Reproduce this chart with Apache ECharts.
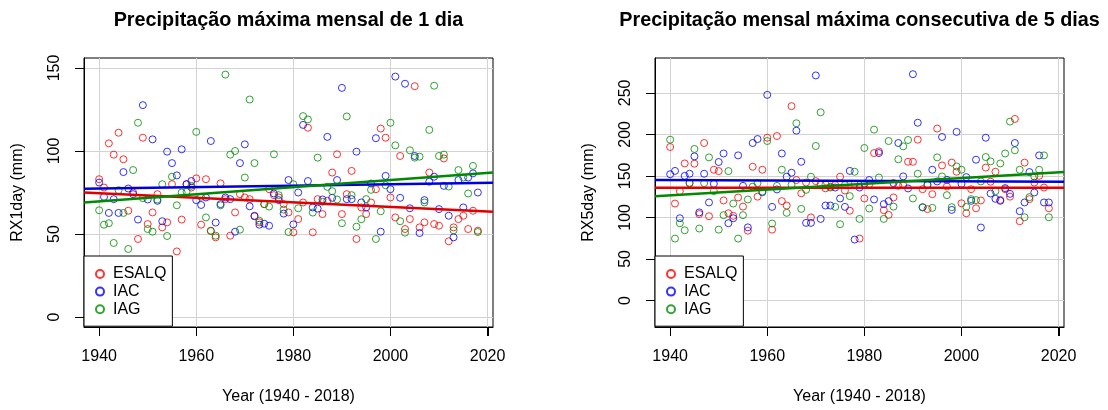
<!DOCTYPE html>
<html>
<head>
<meta charset="utf-8">
<title>RX1day / RX5day</title>
<script src="https://cdn.jsdelivr.net/npm/echarts@6/dist/echarts.min.js"></script>
<style>
  html, body { margin: 0; padding: 0; background: #ffffff; }
  #chart { width: 1108px; height: 410px; }
</style>
</head>
<body>
<div id="chart"></div>
<script>
// Years of record
const years = [
  1940, 1941, 1942, 1943, 1944, 1945, 1946, 1947, 1948, 1949,
  1950, 1951, 1952, 1953, 1954, 1955, 1956, 1957, 1958, 1959,
  1960, 1961, 1962, 1963, 1964, 1965, 1966, 1967, 1968, 1969,
  1970, 1971, 1972, 1973, 1974, 1975, 1976, 1977, 1978, 1979,
  1980, 1981, 1982, 1983, 1984, 1985, 1986, 1987, 1988, 1989,
  1990, 1991, 1992, 1993, 1994, 1995, 1996, 1997, 1998, 1999,
  2000, 2001, 2002, 2003, 2004, 2005, 2006, 2007, 2008, 2009,
  2010, 2011, 2012, 2013, 2014, 2015, 2016, 2017, 2018
];

const stations = ['ESALQ', 'IAC', 'IAG'];

// RX1day (mm): maximum 1-day precipitation per year
const rx1ESALQ = [
  83, 78, 104.6, 97.8, 111, 95, 64, 75, 47, 108,
  56, 63, 74, 54, 57, 80, 39.5, 58.7, 80, 78,
  83.5, 55.6, 83, 52, 48, 80.5, 71, 49, 63, 74,
  72, 71, 61, 57, 68, 77, 73.4, 72, 68, 63,
  51, 59, 69, 114, 51, 71, 62, 70, 87, 98,
  62, 74, 88, 47, 66, 62, 69, 77, 113.5, 108,
  72, 60, 97, 53, 59, 139, 54, 57, 87, 56,
  55, 95.5, 45.6, 54, 59, 61, 53, 64, 52
];
const rx1IAC = [
  81, 72.4, 62.7, 71, 62.7, 87.3, 77.4, 74, 58.7, 127.6,
  70.8, 107, 70, 57.7, 99.6, 92.7, 85.3, 101, 80, 81.9,
  70.4, 67.5, 72, 106, 56.9, 68, 72, 71, 51.4, 92.7,
  104, 66.7, 60.7, 55.6, 56.2, 55, 74.4, 70.4, 62.3, 82.5,
  55.8, 75, 115.7, 81.9, 66, 65.3, 70.8, 108.5, 71.8, 82.5,
  138, 71, 71, 99.6, 69, 66, 80.4, 107.7, 51.4, 85,
  77, 144.8, 71.8, 140.5, 65.5, 97, 50.6, 70.4, 81.5, 84.5,
  65, 79, 61, 48, 82.5, 66, 84, 86.5, 75
];
const rx1IAG = [
  64.3, 55.6, 56.5, 44.6, 76.4, 62.7, 41, 88.5, 117, 71.6,
  53, 51.4, 70.8, 80, 48.8, 84.5, 67.3, 75, 75.4, 79,
  111.5, 72.4, 60, 51.8, 49, 67.3, 146, 97.8, 100, 52.6,
  84, 131, 92.7, 58, 68, 66.5, 98, 73.4, 64.7, 51.2,
  80, 65.5, 121, 119, 62.9, 96, 69.4, 78.4, 75.8, 70.8,
  56.5, 120.8, 73.4, 54.4, 58.9, 71, 76.6, 47, 63.7, 79.4,
  117, 103.4, 57.7, 50.8, 100.4, 96, 96.6, 69, 112.7, 139.3,
  97, 97.8, 78.6, 52.2, 88.5, 84, 74.4, 91, 51.2
];

// RX5day (mm): maximum consecutive 5-day precipitation per year
const rx5ESALQ = [
  184.8, 116.7, 131.6, 165, 141, 164.7, 104, 189.6, 101.4, 157.4,
  155.8, 120.4, 105, 101.9, 124, 113, 84, 161, 125, 157.4,
  196, 85.3, 198, 119.6, 114.3, 234, 145, 129, 142, 100,
  143.7, 140, 135, 137, 139, 149, 132.4, 108, 140, 74.5,
  122.8, 140, 177.5, 179.5, 108.7, 103, 124, 138, 139, 167,
  167, 193.6, 134, 110, 128, 207, 162.6, 137.3, 166, 155,
  117, 105, 134, 111, 120.4, 160, 143, 155, 121, 134,
  125, 218.6, 95.4, 166, 122, 142, 150, 136, 111
];
const rx5IAC = [
  152, 156, 99, 150, 152.6, 173.5, 106, 152.6, 118, 140.5,
  166.7, 177, 93, 99, 174.7, 138, 88, 189.6, 194.4, 130.4,
  247.6, 112.7, 133.7, 177, 149, 153.8, 204.5, 167, 93.4, 93.4,
  271, 98.2, 114.3, 114.3, 136, 122.8, 112.7, 156, 73.3, 136,
  140.5, 145, 121.6, 177.5, 116, 119.6, 141.3, 189.6, 149.4, 134.9,
  272.5, 214, 112.3, 139.7, 157.4, 143.3, 196.9, 145.3, 109, 203,
  140.5, 148.5, 120, 169.5, 87.8, 196, 128.8, 122.4, 120, 135.3,
  128.4, 189.6, 107.5, 118, 154.6, 130, 174.7, 118, 118
];
const rx5IAG = [
  193.6, 74.5, 93, 84.5, 141.7, 182.4, 86.6, 141.3, 172.3, 131.6,
  85.3, 102.7, 155.8, 116.7, 74.5, 102.7, 121.6, 137, 141.3, 131.2,
  192, 92.6, 138, 157.4, 105.5, 139.3, 213.4, 110.3, 133.2, 149,
  186, 226.6, 140, 136, 112.7, 91.8, 139, 125.6, 155, 98.2,
  183.6, 110.7, 205.7, 148, 98.2, 192, 113, 170, 185.6, 193.2,
  122.8, 152.6, 112, 139, 111.5, 172.3, 149.4, 126.8, 112.3, 161.4,
  157.4, 112.7, 122, 120.8, 143.3, 172.7, 167.5, 131.6, 165, 177,
  215.4, 180.8, 157.4, 100.2, 124.4, 149.4, 157.4, 174.7, 100.2
];

// Linear trend of each station: fitted value in 1940 and in 2018
const trendYears = [1940, 2018];
const rx1Trend = { ESALQ: [74.5, 63.8], IAC: [77.4, 80.8], IAG: [69.7, 86.4] };
const rx5Trend = { ESALQ: [135.8, 135.8], IAC: [145.1, 143.0], IAG: [126.7, 153.5] };

// Tick labels
const xTicks = [1940, 1960, 1980, 2000, 2020];
const rx1Ticks = [0, 50, 100, 150];
const rx5Ticks = [0, 50, 100, 150, 200, 250];

const titles = ['Precipitação máxima mensal de 1 dia', 'Precipitação mensal máxima consecutiva de 5 dias'];
const yNames = ['RX1day (mm)', 'RX5day (mm)'];
const xName = 'Year (1940 - 2018)';

// ---- drawing ----
const FONT = '"Liberation Sans", Arial, Helvetica, sans-serif';
const pointColors = ['#FF0000', '#0000FF', '#008B00'];
const lineColors = ['#E00000', '#0000DD', '#008A00'];
const TICK_LEN = 9;

// plot regions (R style: data range padded by 4% on each side)
const xMin = 1936.88, xMax = 2021.12;
const panels = [
  { left: 84, width: 409, yMin: -6, yMax: 156, ticks: rx1Ticks, data: [rx1ESALQ, rx1IAC, rx1IAG], trend: rx1Trend },
  { left: 655, width: 409, yMin: -32, yMax: 292, ticks: rx5Ticks, data: [rx5ESALQ, rx5IAC, rx5IAG], trend: rx5Trend }
];
const gridTop = 58, gridHeight = 269;

const textBase = { fontFamily: FONT, color: '#000', fontSize: 16 };
const blackLine = { color: '#000', width: 1 };

const option = {
  animation: false,
  backgroundColor: '#ffffff',
  title: panels.map((p, i) => ({
    text: titles[i],
    left: p.left + p.width / 2,
    textAlign: 'center',
    top: 11,
    padding: 0,
    textStyle: { fontFamily: FONT, fontSize: 19.8, fontWeight: 'bold', color: '#000' }
  })),
  grid: panels.map(p => ({
    left: p.left, top: gridTop, width: p.width, height: gridHeight,
    show: true, borderColor: '#000', borderWidth: 1, backgroundColor: 'transparent',
    containLabel: false
  })),
  xAxis: panels.map((p, i) => ({
    type: 'value', gridIndex: i, min: xMin, max: xMax,
    axisLine: { show: true, onZero: false, lineStyle: blackLine },
    axisTick: { show: true, inside: false, length: TICK_LEN, lineStyle: blackLine, customValues: xTicks },
    axisLabel: Object.assign({ customValues: xTicks, margin: 22, formatter: v => String(v) }, textBase),
    splitLine: { show: true, lineStyle: { color: '#D3D3D3', width: 1 } },
    name: xName, nameLocation: 'middle', nameGap: 62,
    nameTextStyle: Object.assign({}, textBase)
  })),
  yAxis: panels.map((p, i) => ({
    type: 'value', gridIndex: i, min: p.yMin, max: p.yMax,
    axisLine: { show: true, onZero: false, lineStyle: blackLine },
    axisTick: { show: true, inside: false, length: TICK_LEN, lineStyle: blackLine, customValues: p.ticks },
    axisLabel: Object.assign({ customValues: p.ticks, margin: 21, rotate: 90, formatter: v => String(v) }, textBase),
    splitLine: { show: true, lineStyle: { color: '#D3D3D3', width: 1 } },
    name: yNames[i], nameLocation: 'middle', nameGap: 58,
    nameTextStyle: Object.assign({}, textBase)
  })),
  legend: panels.map(p => ({
    data: stations,
    orient: 'vertical',
    left: p.left, top: 256,
    itemWidth: 16, itemHeight: 8, itemGap: 1.6,
    padding: [10, 6, 9, 11],
    backgroundColor: '#ffffff', borderColor: '#000', borderWidth: 1, borderRadius: 0,
    selectedMode: false,
    textStyle: Object.assign({ lineHeight: 16 }, textBase),
    z: 10
  })),
  series: []
};

panels.forEach((p, pi) => {
  stations.forEach((name, si) => {
    option.series.push({
      type: 'scatter', name: name,
      xAxisIndex: pi, yAxisIndex: pi,
      symbol: 'circle', symbolSize: 7,
      itemStyle: { color: 'rgba(0,0,0,0)', borderColor: pointColors[si], borderWidth: 1 },
      data: years.map((yr, k) => [yr, p.data[si][k]]),
      silent: true, z: 2
    });
  });
  stations.forEach((name, si) => {
    const [v0, v1] = p.trend[name];
    const slope = (v1 - v0) / (trendYears[1] - trendYears[0]);
    const at = x => v0 + slope * (x - trendYears[0]);
    option.series.push({
      type: 'line', name: name + ' trend',
      xAxisIndex: pi, yAxisIndex: pi,
      symbol: 'none', silent: true, z: 3,
      lineStyle: { color: lineColors[si], width: 2.5 },
      data: [[xMin, at(xMin)], [xMax, at(xMax)]]
    });
  });
});

const chart = echarts.init(document.getElementById('chart'), null, { renderer: 'canvas' });
chart.setOption(option);

// Outward tick marks on the bottom and left of each plot box,
// positioned with the chart's own axis scales.
const tickMarks = [];
panels.forEach((p, pi) => {
  const bottomY = chart.convertToPixel({ gridIndex: pi }, [xMin, p.yMin])[1];
  const leftX = chart.convertToPixel({ gridIndex: pi }, [xMin, p.yMin])[0];
  xTicks.forEach(v => {
    const px = Math.round(chart.convertToPixel({ gridIndex: pi }, [v, p.yMin])[0]) + 0.5;
    tickMarks.push({ type: 'line', silent: true, z: 50,
      shape: { x1: px, y1: bottomY, x2: px, y2: bottomY + TICK_LEN },
      style: { stroke: '#000', lineWidth: 1 } });
  });
  p.ticks.forEach(v => {
    const py = Math.round(chart.convertToPixel({ gridIndex: pi }, [xMin, v])[1]) + 0.5;
    tickMarks.push({ type: 'line', silent: true, z: 50,
      shape: { x1: leftX, y1: py, x2: leftX - TICK_LEN, y2: py },
      style: { stroke: '#000', lineWidth: 1 } });
  });
});
chart.setOption({ graphic: { elements: tickMarks } });
</script>
</body>
</html>
